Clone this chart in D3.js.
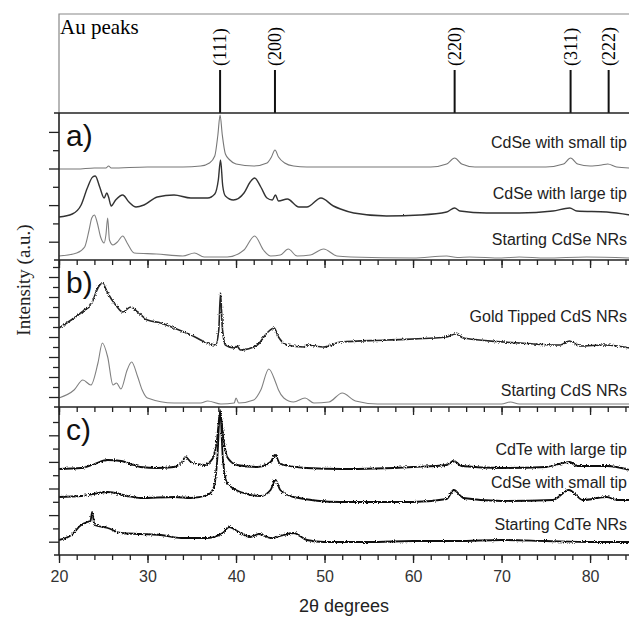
<!DOCTYPE html>
<html>
<head>
	<title>XRD patterns</title>
	<script src="https://d3js.org/d3.v7.min.js"></script>
	<style type="text/css">
		body { margin:0; background:#fff; }
		svg { display:block; }
		.tick text { font-family:"Liberation Sans", Arial, sans-serif; }
	</style>
</head>
<body>
<script type="text/javascript">

	// Au reference peaks (2theta) and their labels
	var auPeaks = [38.2, 44.4, 64.7, 77.8, 82.1];
	var auLabels = ["(111)", "(200)", "(220)", "(311)", "(222)"];
	var xTicks = [20, 30, 40, 50, 60, 70, 80];

	// panel a) [2theta, intensity]
	var aSmallTip = [[20,91],[22,91],[24,92],[25.3,92],[25.6,94],[25.9,92],[30,93],[34,93],[36,94],[37,97],[37.6,104],[37.95,125],[38.2,145],[38.45,125],[38.8,106],[39.3,100],[40,96],[42,94],[43.5,97],[44.0,103],[44.4,110],[44.8,103],[45.5,97],[46.5,94],[48,93],[55,93],[62,93],[63.8,96],[64.7,102],[65.5,96],[67,93],[75,93],[77,96],[77.8,102],[78.6,96],[80,94],[81.3,95],[82,96],[83,93],[84.5,92]];
	var aLargeTip = [[20,43],[21.5,46],[22.5,55],[23.2,72],[23.8,83],[24.1,84],[24.6,73],[25.1,62],[25.4,67],[25.6,63],[25.9,54],[26.4,60],[27.2,65],[27.9,58],[28.7,53],[29.6,55],[31.1,63],[33,65],[34.9,62],[36.8,62],[37.6,66],[38.0,80],[38.25,100],[38.5,74],[38.8,64],[39.7,60],[40.9,67],[41.6,78],[42.1,82],[42.8,73],[43.5,62],[44.1,60],[44.45,65],[44.8,59],[45.8,61],[47.1,53],[48,53],[49.6,62],[51,54],[51.8,51],[53.3,47],[57,44],[60.8,45],[63.8,48],[64.7,52],[65.3,49],[68.3,47],[72,47],[75.8,49],[77.7,52],[78.5,49],[81.9,48],[84.5,45]];
	var aStart = [[20,4],[22,7],[22.9,13],[23.4,30],[23.7,42],[24.0,45],[24.3,38],[24.7,23],[25.1,17],[25.3,25],[25.5,42],[25.7,20],[26.1,15],[26.6,18],[27.2,24],[27.7,17],[28.5,7],[31,6],[34,4],[35.3,7],[36.4,3],[39,3],[40.9,10],[42.1,24],[43.1,10],[43.9,4],[45,5],[45.9,11],[46.9,4],[48.4,5],[49.9,11],[51.4,4],[53,3],[60,2],[63.8,4],[65,2.5],[66.4,3],[70,2],[72,3],[75,2],[79.6,3],[84.5,2]];

	// panel b)
	var bGoldTip = [[20,79],[21.7,89],[22.9,97],[23.6,102],[24.4,119],[24.9,124],[25.5,114],[26.4,102],[27.2,95],[28.1,100],[28.9,95],[30,87],[31.5,84],[33,79],[34.9,72],[36.8,64],[37.7,62],[38.05,77],[38.25,114],[38.45,80],[38.8,62],[39.8,59],[40.1,61],[40.5,57],[42.4,62],[43.5,74],[44.3,79],[44.8,70],[45.8,62],[47.7,60],[48,62],[49.9,60],[51.8,65],[57.1,67],[63.8,70],[64.8,73],[65.7,69],[72.1,64],[76.6,62],[77.7,66],[78.8,61],[81.7,62],[84.5,59]];
	var bStart = [[20,9],[21.7,17],[22.7,27],[23.6,22],[24.4,44],[24.9,64],[25.5,50],[26.1,22],[26.5,24],[27.0,18],[27.7,37],[28.2,45],[28.9,30],[29.4,17],[30,9],[33,4],[36,4],[36.8,6],[38.3,3],[39.8,4],[40.0,9],[40.3,4],[42,7],[42.8,17],[43.7,38],[44.5,24],[44.8,17],[45.4,9],[46.5,5],[47.8,9],[48.8,4],[50.5,5],[52,14],[53.5,6],[56,3],[65,3],[70,3],[71,5],[72,3],[84.5,3]];

	// panel c)
	var cLargeTip = [[20,86],[22.5,87],[24,91],[25.5,95],[27,94],[29.2,88],[31.1,87],[33,88],[33.9,93],[34.3,98],[34.9,93],[36.4,90],[37.4,97],[37.85,115],[38.2,143],[38.6,115],[39,98],[40.1,90],[42.4,88],[43.9,93],[44.4,100],[45,91],[48,87],[52,86],[60,88],[63.8,90],[64.6,94],[65.5,89],[70,87],[75,88],[77.7,93],[78.5,89],[81.9,89],[84.5,85]];
	var cSmallTip = [[20,58],[22.5,59],[25.5,63],[27.7,59],[29.2,57],[33,58],[34.9,57],[36.8,60],[37.5,68],[37.9,98],[38.2,145],[38.5,98],[39,72],[40.5,63],[42.8,59],[43.9,65],[44.45,75],[45,65],[46.5,58],[51.8,53],[60,53],[63.8,56],[64.6,65],[65.7,57],[70,54],[75.8,55],[77.6,65],[79.2,55],[81.9,58],[83,55],[84.5,55]];
	var cStart = [[20,15],[21.4,20],[22.5,30],[23.2,33],[23.55,34],[23.75,43],[24.0,30],[25.5,27],[27,22],[29.2,21],[31.5,20],[33.8,17],[36.8,17],[38.5,22],[39.2,28],[40.5,22],[41.6,18],[42.6,21],[43.9,17],[46.5,22],[48,15],[50,13],[55,13],[60,14],[65,14],[70,15],[75,14],[80,13],[84.5,13]];

	var w = 629, h = 619;
	var left = 59, right = 629;

	var svg = d3.select("body").append("svg")
		.attr("width", w)
		.attr("height", h);

	// noisy look for the rough scans (strong and light)
	var defs = svg.append("defs");
	[["rough", 3.4], ["soft", 1.6]].forEach(function(f){
		var filter = defs.append("filter")
			.attr("id", f[0])
			.attr("filterUnits", "userSpaceOnUse")
			.attr("x", 0).attr("y", 0).attr("width", w).attr("height", h);
		filter.append("feTurbulence")
			.attr("type", "fractalNoise")
			.attr("baseFrequency", "0.9 0.9")
			.attr("numOctaves", 1)
			.attr("seed", 4)
			.attr("result", "noise");
		filter.append("feDisplacementMap")
			.attr("in", "SourceGraphic")
			.attr("in2", "noise")
			.attr("scale", f[1])
			.attr("xChannelSelector", "R")
			.attr("yChannelSelector", "G");
	});

	var x = d3.scaleLinear().domain([20, 84.4]).range([left, right]);

	var panels = [
		{top:113, bottom:260, label:"a)", step:18.3, n:7,
			series:[
				{data:aSmallTip, name:"CdSe with small tip", ly:148, color:"#777", width:1.1},
				{data:aLargeTip, name:"CdSe with large tip", ly:199, color:"#333", width:1.4, filter:"soft"},
				{data:aStart, name:"Starting CdSe NRs", ly:245, color:"#808080", width:1.1}
			]},
		{top:260, bottom:407, label:"b)", step:10, n:14,
			series:[
				{data:bGoldTip, name:"Gold Tipped CdS NRs", ly:322, color:"#222", width:1.6, filter:"rough"},
				{data:bStart, name:"Starting CdS NRs", ly:396, color:"#808080", width:1.1}
			]},
		{top:407, bottom:555, label:"c)", step:13.3, n:10,
			series:[
				{data:cLargeTip, name:"CdTe with large tip", ly:455, color:"#111", width:1.8, filter:"rough"},
				{data:cSmallTip, name:"CdSe with small tip", ly:488, color:"#111", width:1.8, filter:"rough"},
				{data:cStart, name:"Starting CdTe NRs", ly:530, color:"#111", width:1.8, filter:"rough"}
			]}
	];

	// Au peaks box
	svg.append("path")
		.attr("d", "M" + left + ",113V14H" + (right + 2))
		.attr("fill", "none")
		.attr("stroke", "#888")
		.attr("stroke-width", 1.2);

	svg.append("text")
		.attr("x", left + 1)
		.attr("y", 34)
		.attr("font-family", "'Liberation Serif', 'Times New Roman', serif")
		.attr("font-size", 21)
		.text("Au peaks");

	svg.selectAll("line.au")
		.data(auPeaks)
		.enter()
		.append("line")
			.attr("class", "au")
			.attr("x1", function(d){return x(d);})
			.attr("x2", function(d){return x(d);})
			.attr("y1", 113)
			.attr("y2", 70)
			.attr("stroke", "#111")
			.attr("stroke-width", 2);

	svg.selectAll("text.au")
		.data(auPeaks)
		.enter()
		.append("text")
			.attr("class", "au")
			.attr("transform", function(d){return "translate(" + (x(d) + 6) + ",66) rotate(-90)";})
			.attr("font-family", "'Liberation Serif', 'Times New Roman', serif")
			.attr("font-size", 18)
			.text(function(d, i){return auLabels[i];});

	var minorX = d3.range(20, 85, 2);

	panels.forEach(function(p, pi){
		var y = d3.scaleLinear().domain([0, p.bottom - p.top]).range([p.bottom, p.top]);

		var line = d3.line()
			.x(function(d){return x(d[0]);})
			.y(function(d){return y(d[1]);})
			.curve(d3.curveMonotoneX);

		// curves
		p.series.forEach(function(s){
			svg.append("path")
				.datum(s.data)
				.attr("d", line)
				.attr("fill", "none")
				.attr("stroke", s.color)
				.attr("stroke-width", s.width)
				.attr("stroke-linejoin", "round")
				.attr("filter", s.filter ? "url(#" + s.filter + ")" : null);

			svg.append("text")
				.attr("x", 627)
				.attr("y", s.ly)
				.attr("text-anchor", "end")
				.attr("font-family", "'Liberation Sans', Arial, sans-serif")
				.attr("font-size", 16)
				.attr("fill", "#222")
				.text(s.name);
		});

		// panel letter
		svg.append("text")
			.attr("x", 66)
			.attr("y", p.top + 33)
			.attr("font-family", "'Liberation Sans', Arial, sans-serif")
			.attr("font-size", 30)
			.attr("fill", "#111")
			.text(p.label);

		// yaxis ticks, major and minor
		var yt = d3.range(1, p.n + 1).map(function(k){return k * p.step;});
		svg.append("g")
			.attr("transform", "translate(" + left + ",0)")
			.call(d3.axisLeft(y).tickValues(yt.filter(function(d, i){return i % 2 == 1;})).tickSize(6).tickFormat(""))
			.call(function(g){g.select(".domain").remove();});
		svg.append("g")
			.attr("transform", "translate(" + left + ",0)")
			.call(d3.axisLeft(y).tickValues(yt.filter(function(d, i){return i % 2 == 0;})).tickSize(10).tickFormat(""))
			.call(function(g){g.select(".domain").remove();});

		// xaxis ticks, pointing down
		var last = pi == panels.length - 1;
		svg.append("g")
			.attr("transform", "translate(0," + p.bottom + ")")
			.call(d3.axisBottom(x).tickValues(minorX).tickSize(5).tickFormat(""))
			.call(function(g){g.select(".domain").remove();});
		svg.append("g")
			.attr("transform", "translate(0," + p.bottom + ")")
			.call(d3.axisBottom(x).tickValues(xTicks).tickSize(8).tickPadding(8).tickFormat(last ? d3.format("d") : ""))
			.call(function(g){g.select(".domain").remove();})
			.call(function(g){g.selectAll("text").attr("font-size", 16).attr("fill", "#333");});
	});

	svg.selectAll(".tick line").attr("stroke", "#222").attr("stroke-width", 1.3);

	// panel separators
	svg.selectAll("line.sep")
		.data([113, 260, 407, 555])
		.enter()
		.append("line")
			.attr("x1", 54)
			.attr("x2", right + 2)
			.attr("y1", function(d){return d;})
			.attr("y2", function(d){return d;})
			.attr("stroke", "#222")
			.attr("stroke-width", 1.6);

	// left axis line
	svg.append("line")
		.attr("x1", left).attr("x2", left)
		.attr("y1", 113).attr("y2", 555)
		.attr("stroke", "#222")
		.attr("stroke-width", 1.6);

	// axis titles
	svg.append("text")
		.attr("x", (left + right) / 2)
		.attr("y", 612)
		.attr("text-anchor", "middle")
		.attr("font-family", "'Liberation Sans', Arial, sans-serif")
		.attr("font-size", 18)
		.attr("fill", "#222")
		.text("2θ degrees");

	svg.append("text")
		.attr("transform", "translate(30,280) rotate(-90)")
		.attr("text-anchor", "middle")
		.attr("font-family", "'Liberation Serif', 'Times New Roman', serif")
		.attr("font-size", 19)
		.attr("fill", "#222")
		.text("Intensity (a.u.)");

</script>
</body>
</html>
